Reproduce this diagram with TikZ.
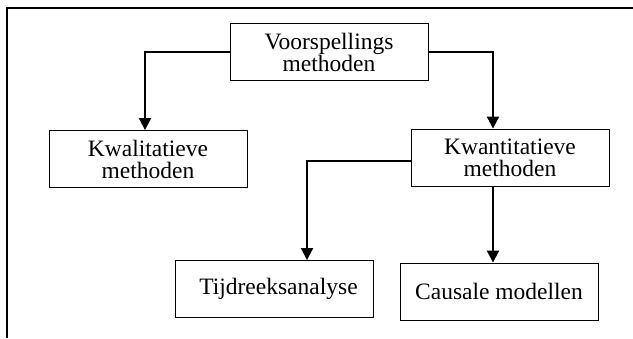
\documentclass[tikz,border=0pt]{standalone}
\usepackage{fontspec}
\setmainfont{Liberation Serif}
\usetikzlibrary{arrows.meta}

\begin{document}
\begin{tikzpicture}[x=1pt, y=-1pt,
    every node/.style={
    draw, line width=0.9pt, rectangle, align=center,
    minimum width=198pt, minimum height=57pt, inner sep=0pt,
    font=\fontsize{23.5}{22}\selectfont},
    link/.style={line width=2pt, -{Triangle[length=12pt,width=12pt]}}
    ]
    \useasboundingbox (0,0) rectangle (633,338);
    % frame
    \draw[line width=2pt] (633,8) -- (7,8) -- (7,338);

    \node(voor) at (329,52) {Voorspellings\\methoden};
    \node(kwal) at (148,159) {Kwalitatieve\\methoden};
    \node(kwan) at (510,157.5) {Kwantitatieve\\methoden};
    \node(tijd) at (274.5,289) {\hspace{8pt}Tijdreeksanalyse};
    \node(caus) at (499,291.5) {Causale modellen};

    \draw[link] (voor.west) -| ([xshift=-3pt]kwal.north);
    \draw[link] (voor.east) -| ([xshift=-17pt]kwan.north);
    \draw[link] ([yshift=-3pt]kwan.west) -| ([xshift=32.5pt]tijd.north);
    \draw[link] ([xshift=-17pt]kwan.south) -- ([xshift=-17pt]kwan.south |- caus.north);
\end{tikzpicture}
\end{document}
